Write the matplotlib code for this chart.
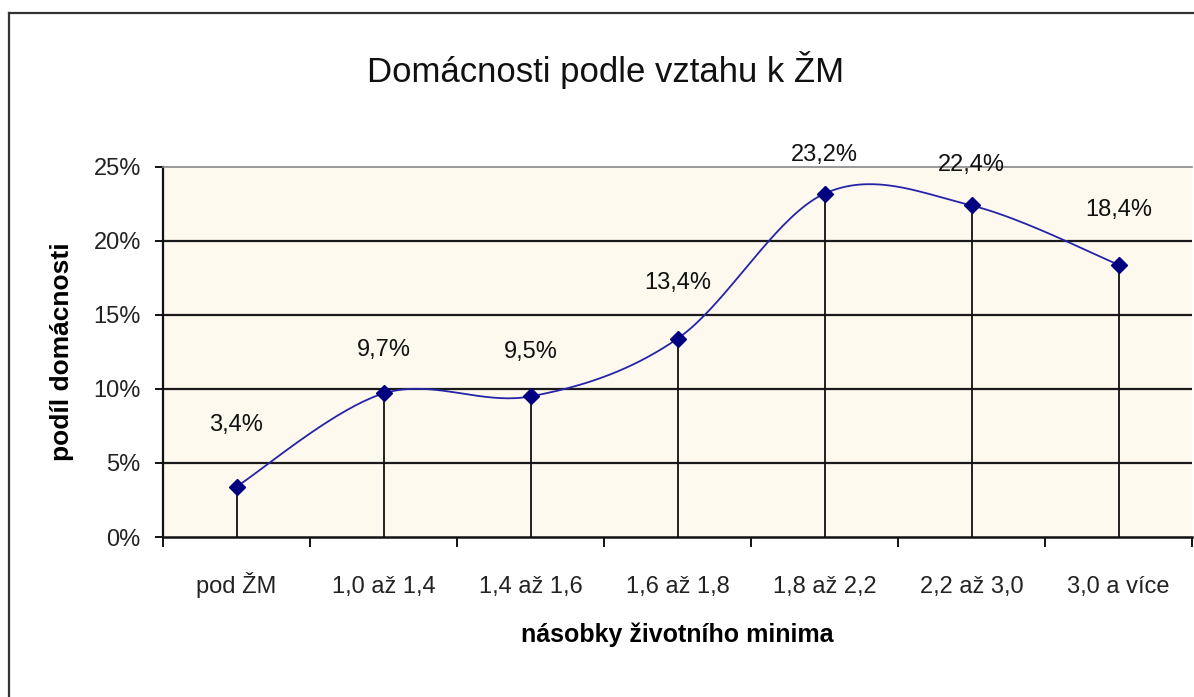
import matplotlib
matplotlib.use("Agg")
import matplotlib.pyplot as plt
import numpy as np
from matplotlib.lines import Line2D
from matplotlib.ticker import FixedLocator, NullFormatter, FixedFormatter

plt.rcParams["font.family"] = ["Liberation Sans", "DejaVu Sans"]

# data
categories = ["pod ŽM", "1,0 až 1,4", "1,4 až 1,6", "1,6 až 1,8",
              "1,8 až 2,2", "2,2 až 3,0", "3,0 a více"]
shares = [3.4, 9.7, 9.5, 13.4, 23.2, 22.4, 18.4]
y_ticks = [0, 5, 10, 15, 20, 25]

# label offsets above points (pixels), as placed in the source chart
label_offsets = [62, 43, 44, 56, 39, 40, 55]


def smooth_curve(xs, ys, steps=40):
    """Excel-like smoothed line: cubic Bezier, tangents from neighbours / 6."""
    pts = np.column_stack([xs, ys]).astype(float)
    n = len(pts)
    out = []
    for i in range(n - 1):
        p0 = pts[max(i - 1, 0)]
        p1 = pts[i]
        p2 = pts[i + 1]
        p3 = pts[min(i + 2, n - 1)]
        c1 = p1 + (p2 - p0) / 6.0
        c2 = p2 - (p3 - p1) / 6.0
        t = np.linspace(0, 1, steps)[:, None]
        seg = ((1 - t) ** 3) * p1 + 3 * ((1 - t) ** 2) * t * c1 \
            + 3 * (1 - t) * t ** 2 * c2 + t ** 3 * p2
        out.append(seg if i == 0 else seg[1:])
    curve = np.vstack(out)
    return curve[:, 0], curve[:, 1]


W, H = 1194, 697
fig = plt.figure(figsize=(W / 100, H / 100), dpi=100)

# outer chart border (only left and top visible in the source)
fig.add_artist(Line2D([8.5 / W, 8.5 / W], [0, 1 - 13 / H], transform=fig.transFigure,
                      color="#333333", lw=1.6))
fig.add_artist(Line2D([8.5 / W, 1], [1 - 13 / H, 1 - 13 / H], transform=fig.transFigure,
                      color="#333333", lw=1.6))

ax = fig.add_axes([163 / W, 1 - 537 / H, 1029 / W, 370 / H])
ax.set_facecolor("#FEF9EE")

x = np.arange(len(categories)) + 0.5
ax.set_xlim(0, len(categories))
ax.set_ylim(0, 25)

# gridlines
for v in y_ticks[1:-1]:
    ax.axhline(v, color="#1a1a1a", lw=1.6, zorder=1)

# drop lines
ax.vlines(x, 0, shares, color="#111111", lw=1.3, zorder=2)

sx, sy = smooth_curve(x, shares)
ax.plot(sx, sy, color="#2424A8", lw=1.3, zorder=3)
ax.plot(x, shares, linestyle="none", marker="D", markersize=8,
        color="#000080", zorder=4)

for xi, yi, off in zip(x, shares, label_offsets):
    ax.annotate(f"{yi:.1f}%".replace(".", ","), (xi, yi),
                xytext=(0, off * 0.72), textcoords="offset points",
                ha="center", va="center", fontsize=17, color="#111111",
                annotation_clip=False)

# spines
for s in ["right", "bottom"]:
    ax.spines[s].set_visible(False)
ax.spines["top"].set_color("#888888")
ax.spines["top"].set_linewidth(1.2)
ax.spines["left"].set_color("#111111")
ax.spines["left"].set_linewidth(1.6)
ax.axhline(0, color="#111111", lw=1.8, zorder=5, clip_on=False)

# y axis
ax.set_yticks(y_ticks)
ax.set_yticklabels([f"{v}%" for v in y_ticks])
ax.tick_params(axis="y", direction="out", length=6, width=1.4, color="#111111",
               pad=10, labelsize=17, labelcolor="#222222")

# x axis: tick marks at category boundaries, labels centered
ax.xaxis.set_major_locator(FixedLocator(np.arange(len(categories) + 1)))
ax.xaxis.set_major_formatter(NullFormatter())
ax.xaxis.set_minor_locator(FixedLocator(x))
ax.xaxis.set_minor_formatter(FixedFormatter(categories))
ax.tick_params(axis="x", which="major", direction="out", length=7, width=1.4,
               color="#111111")
ax.tick_params(axis="x", which="minor", length=0, pad=40, labelsize=17,
               labelcolor="#222222")
for lbl in ax.xaxis.get_minorticklabels():
    lbl.set_verticalalignment("baseline")

ax.set_xlabel("násobky životního minima", fontsize=18, fontweight="bold", labelpad=18)
ax.set_ylabel("podíl domácnosti", fontsize=19, fontweight="bold", labelpad=14)

fig.text(606 / W, 1 - 70 / H, "Domácnosti podle vztahu k ŽM", ha="center", va="center",
         fontsize=25, color="#111111")

fig.savefig("out.png", dpi=100)
